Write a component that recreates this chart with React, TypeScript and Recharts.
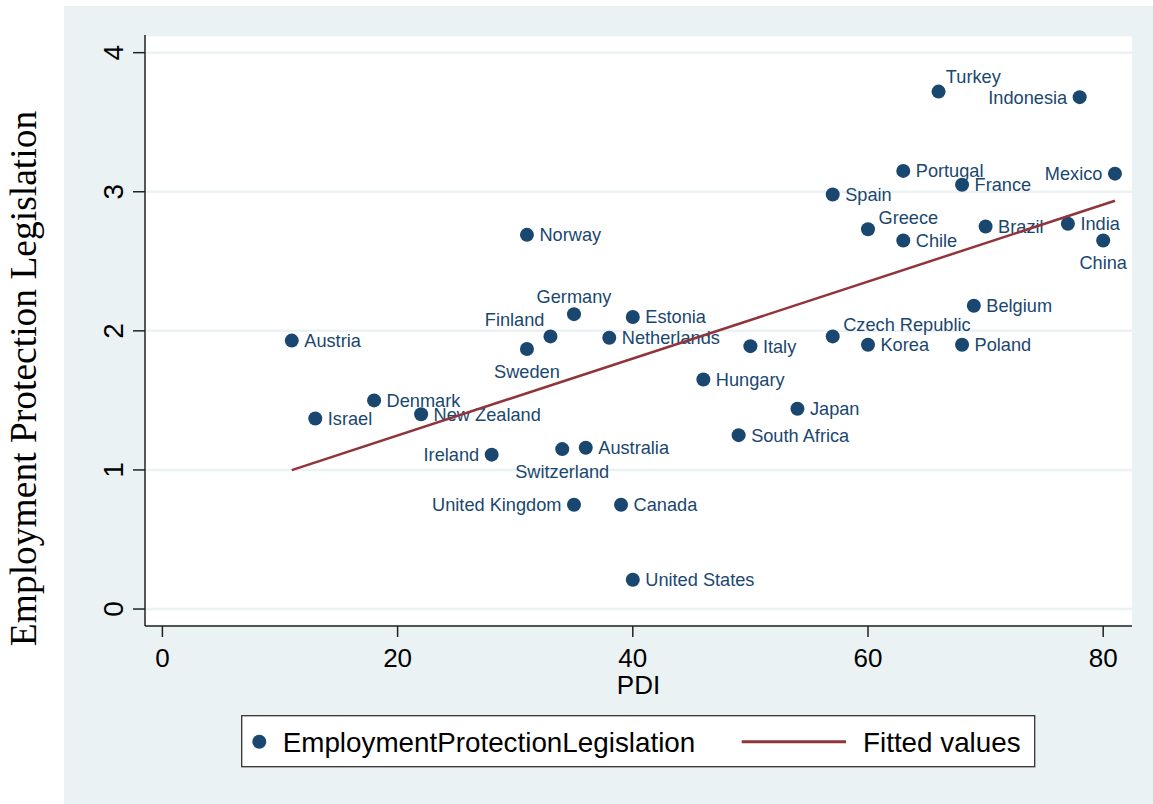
import React from 'react';
import { ScatterChart, Scatter, XAxis, YAxis, CartesianGrid } from 'recharts';

// ---- Data ----
const countries = [
  'Austria', 'Israel', 'Denmark', 'New Zealand', 'Ireland', 'Norway', 'Sweden', 'Finland',
  'Switzerland', 'Germany', 'United Kingdom', 'Australia', 'Netherlands', 'Canada', 'Estonia',
  'United States', 'Hungary', 'South Africa', 'Italy', 'Japan', 'Spain', 'Czech Republic',
  'Greece', 'Korea', 'Portugal', 'Chile', 'Turkey', 'France', 'Poland', 'Belgium', 'Brazil',
  'India', 'Indonesia', 'China', 'Mexico',
];
const pdiValues = [
  11, 13, 18, 22, 28, 31, 31, 33, 34, 35, 35, 36, 38, 39, 40, 40, 46, 49, 50, 54, 57, 57,
  60, 60, 63, 63, 66, 68, 68, 69, 70, 77, 78, 80, 81,
];
const eplValues = [
  1.93, 1.37, 1.5, 1.4, 1.11, 2.69, 1.87, 1.96, 1.15, 2.12, 0.75, 1.16, 1.95, 0.75, 2.1,
  0.21, 1.65, 1.25, 1.89, 1.44, 2.98, 1.96, 2.73, 1.9, 3.15, 2.65, 3.72, 3.05, 1.9, 2.18,
  2.75, 2.77, 3.68, 2.65, 3.13,
];
const fitPdi = [11, 81];
const fitValues = [0.999, 2.935];
const xTicks = [0, 20, 40, 60, 80];
const yTicks = [0, 1, 2, 3, 4];

// ---- Styles ----
const NAVY = '#1A476F';
const MAROON = '#90353B';
const BG = '#EAF2F3';
const SANS = '"Liberation Sans", Arial, Helvetica, sans-serif';
const SERIF = '"Liberation Serif", "Times New Roman", Times, serif';

// label placement (Stata clock positions), default right
const labelPlacement: Record<string, string> = {
  Finland: 'ul',
  Germany: 't',
  Sweden: 'b',
  Switzerland: 'b',
  China: 'b',
  Ireland: 'l',
  'United Kingdom': 'l',
  Indonesia: 'l',
  Mexico: 'l',
  Turkey: 'tr1',
  Greece: 'tr',
  'Czech Republic': 'tr',
};
const placementStyle: Record<string, { dx: number; dy: number; anchor: string }> = {
  r: { dx: 12.5, dy: 6.5, anchor: 'start' },
  l: { dx: -12.5, dy: 6.5, anchor: 'end' },
  b: { dx: 0, dy: 29, anchor: 'middle' },
  t: { dx: 0, dy: -10.7, anchor: 'middle' },
  ul: { dx: -6, dy: -10.3, anchor: 'end' },
  tr: { dx: 10.5, dy: -5, anchor: 'start' },
  tr1: { dx: 7.3, dy: -9, anchor: 'start' },
};

const points = countries.map((name, i) => ({ name, pdi: pdiValues[i], epl: eplValues[i] }));
const fitData = fitPdi.map((p, i) => ({ pdi: p, epl: fitValues[i] }));

const PointShape = (props: any) => {
  const { cx, cy, payload } = props;
  if (cx == null || cy == null) return <g />;
  const pl = placementStyle[labelPlacement[payload.name] || 'r'];
  return (
    <g>
      <circle cx={cx} cy={cy} r={7} fill={NAVY} />
      <text
        x={cx + pl.dx}
        y={cy + pl.dy}
        textAnchor={pl.anchor as any}
        fontSize={18.2}
        fontFamily={SANS}
        fill={NAVY}
      >
        {payload.name}
      </text>
    </g>
  );
};

const EmptyShape = () => <g />;

const XTick = (props: any) => {
  const { x, y, payload } = props;
  return (
    <text x={x} y={y + 30} textAnchor="middle" fontSize={26} fontFamily={SANS} fill="#000">
      {payload.value}
    </text>
  );
};

const YTick = (props: any) => {
  const { x, y, payload } = props;
  const bx = x - 10;
  return (
    <text
      x={bx}
      y={y}
      transform={`rotate(-90 ${bx} ${y})`}
      textAnchor="middle"
      fontSize={28}
      fontFamily={SANS}
      fill="#000"
    >
      {payload.value}
    </text>
  );
};

const XTitle = (props: any) => {
  const vb = props.viewBox || { x: 145, y: 626, width: 987, height: 178 };
  return (
    <text
      x={vb.x + vb.width / 2}
      y={vb.y + 68}
      textAnchor="middle"
      fontSize={26}
      fontFamily={SANS}
      fill="#000"
    >
      PDI
    </text>
  );
};

const YTitle = (props: any) => {
  const vb = props.viewBox || { x: 0, y: 35, width: 145, height: 591 };
  const tx = vb.x + 36;
  const ty = vb.y + vb.height / 2 + 48;
  return (
    <text
      x={tx}
      y={ty}
      transform={`rotate(-90 ${tx} ${ty})`}
      textAnchor="middle"
      fontSize={37.5}
      fontFamily={SERIF}
      fill="#000"
    >
      Employment Protection Legislation
    </text>
  );
};

const Legend = () => (
  <svg
    width={796}
    height={54}
    style={{ position: 'absolute', left: 240, top: 714, overflow: 'visible' }}
  >
    <rect x={1.7} y={1.7} width={793} height={51} fill="#FFFFFF" stroke="#333" strokeWidth={1.3} />
    <circle cx={19.3} cy={27.7} r={7} fill={NAVY} />
    <text x={42.7} y={38} fontSize={27.8} fontFamily={SANS} fill="#000">
      EmploymentProtectionLegislation
    </text>
    <line x1={501.7} y1={27.7} x2={606} y2={27.7} stroke={MAROON} strokeWidth={3} />
    <text x={623} y={38} fontSize={27.8} fontFamily={SANS} fill="#000">
      Fitted values
    </text>
  </svg>
);

export default function App() {
  return (
    <div
      style={{
        position: 'absolute',
        left: 0,
        top: 0,
        width: 1153,
        height: 804,
        background: '#FFFFFF',
        overflow: 'hidden',
      }}
    >
      <div
        style={{ position: 'absolute', left: 64, top: 6, right: 0, bottom: 0, background: BG }}
      />
      <div style={{ position: 'absolute', left: 0, top: 0 }}>
        <ScatterChart
          width={1153}
          height={804}
          margin={{ top: 35, right: 21, bottom: 0, left: 0 }}
        >
          <CartesianGrid
            horizontal={true}
            vertical={false}
            stroke={BG}
            strokeWidth={2.5}
            fill="#FFFFFF"
            fillOpacity={1}
          />
          <XAxis
            type="number"
            dataKey="pdi"
            domain={[-1.48, 82.45]}
            ticks={xTicks}
            height={178}
            tickSize={11}
            tickMargin={0}
            axisLine={{ stroke: '#222', strokeWidth: 1.5 }}
            tickLine={{ stroke: '#222', strokeWidth: 1.5 }}
            tick={<XTick />}
            interval={0}
            allowDataOverflow
            label={<XTitle />}
          />
          <YAxis
            type="number"
            dataKey="epl"
            domain={[-0.122, 4.127]}
            ticks={yTicks}
            width={145}
            tickSize={12}
            tickMargin={0}
            axisLine={{ stroke: '#222', strokeWidth: 1.5 }}
            tickLine={{ stroke: '#222', strokeWidth: 1.5 }}
            tick={<YTick />}
            interval={0}
            allowDataOverflow
            label={<YTitle />}
          />
          <Scatter
            name="EmploymentProtectionLegislation"
            data={points}
            fill={NAVY}
            shape={<PointShape />}
            isAnimationActive={false}
          />
          <Scatter
            name="Fitted values"
            data={fitData}
            fill={MAROON}
            line={{ stroke: MAROON, strokeWidth: 2.5 }}
            shape={<EmptyShape />}
            isAnimationActive={false}
          />
        </ScatterChart>
      </div>
      <Legend />
    </div>
  );
}
